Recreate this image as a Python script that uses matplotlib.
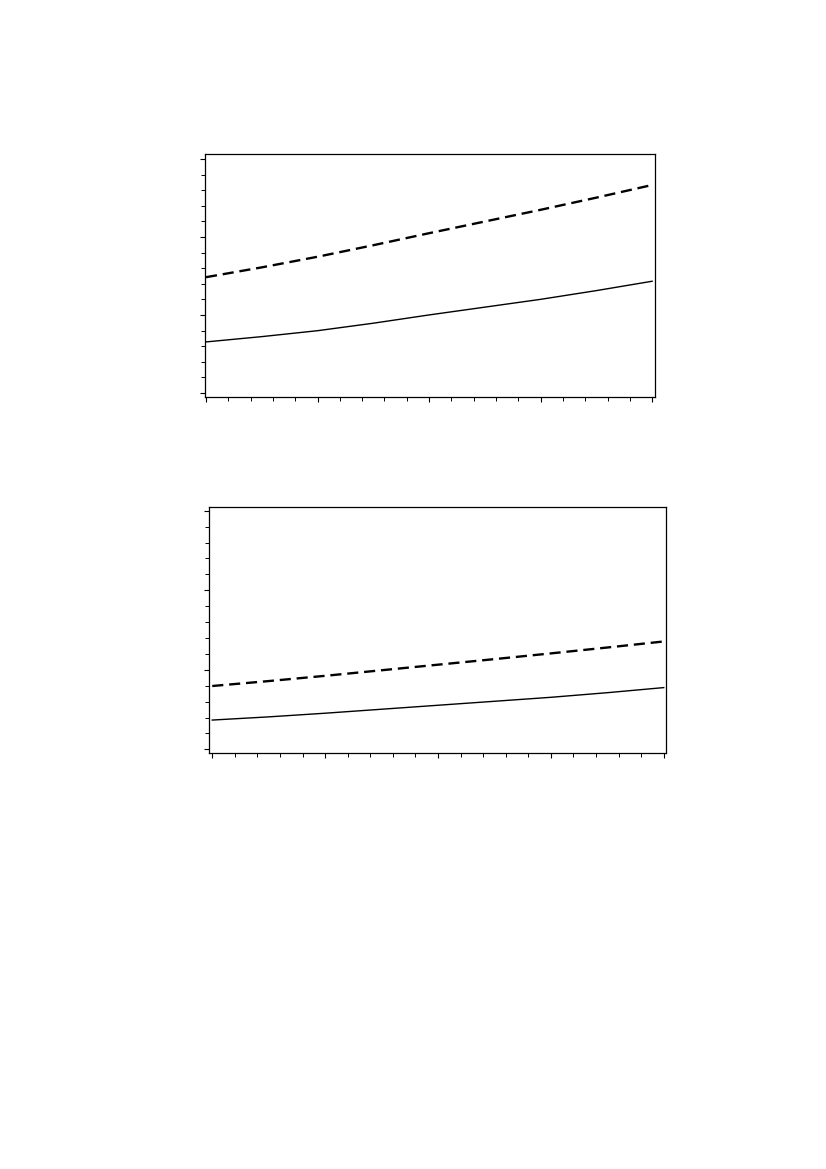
import matplotlib
matplotlib.use("Agg")
import matplotlib.pyplot as plt
from matplotlib.ticker import MultipleLocator, NullFormatter

plt.rcParams['lines.scale_dashes'] = False

x_vals = [0, 2.5, 5, 7.5, 10, 12.5, 15, 17.5, 20]

top_dashed = [7.42, 8.05, 8.73, 9.47, 10.24, 10.99, 11.74, 12.52, 13.33]
top_solid = [3.27, 3.61, 3.99, 4.47, 5.00, 5.50, 6.00, 6.56, 7.16]

bottom_dashed = [3.98, 4.29, 4.62, 4.97, 5.32, 5.67, 6.03, 6.40, 6.78]
bottom_solid = [1.84, 2.04, 2.27, 2.52, 2.77, 3.02, 3.27, 3.56, 3.88]

fig = plt.figure(figsize=(8.26, 11.69), dpi=100)

ax1 = fig.add_axes([0.2482, 0.6604, 0.5448, 0.2079])
ax2 = fig.add_axes([0.2534, 0.3556, 0.5529, 0.2104])

panels = [
    (ax1, top_dashed, top_solid, (-0.045, 20.13), (-0.26, 15.32)),
    (ax2, bottom_dashed, bottom_solid, (-0.13, 20.1), (-0.25, 15.21)),
]

for ax, dashed, solid, xl, yl in panels:
    ax.plot(x_vals, dashed, color='black', linewidth=1.7, linestyle=(0, (8.0, 4.2)))
    ax.plot(x_vals, solid, color='black', linewidth=1.0, linestyle='-')
    ax.set_xlim(*xl)
    ax.set_ylim(*yl)
    ax.xaxis.set_major_locator(MultipleLocator(5))
    ax.xaxis.set_minor_locator(MultipleLocator(1))
    ax.yaxis.set_major_locator(MultipleLocator(5))
    ax.yaxis.set_minor_locator(MultipleLocator(1))
    ax.xaxis.set_major_formatter(NullFormatter())
    ax.yaxis.set_major_formatter(NullFormatter())
    ax.tick_params(which='major', direction='out', length=3.8, width=0.8, color='black')
    ax.tick_params(which='minor', direction='out', length=2.6, width=0.7, color='black')
    for s in ax.spines.values():
        s.set_linewidth(0.9)
        s.set_color('black')

fig.savefig('out.png', dpi=100, facecolor='white')
